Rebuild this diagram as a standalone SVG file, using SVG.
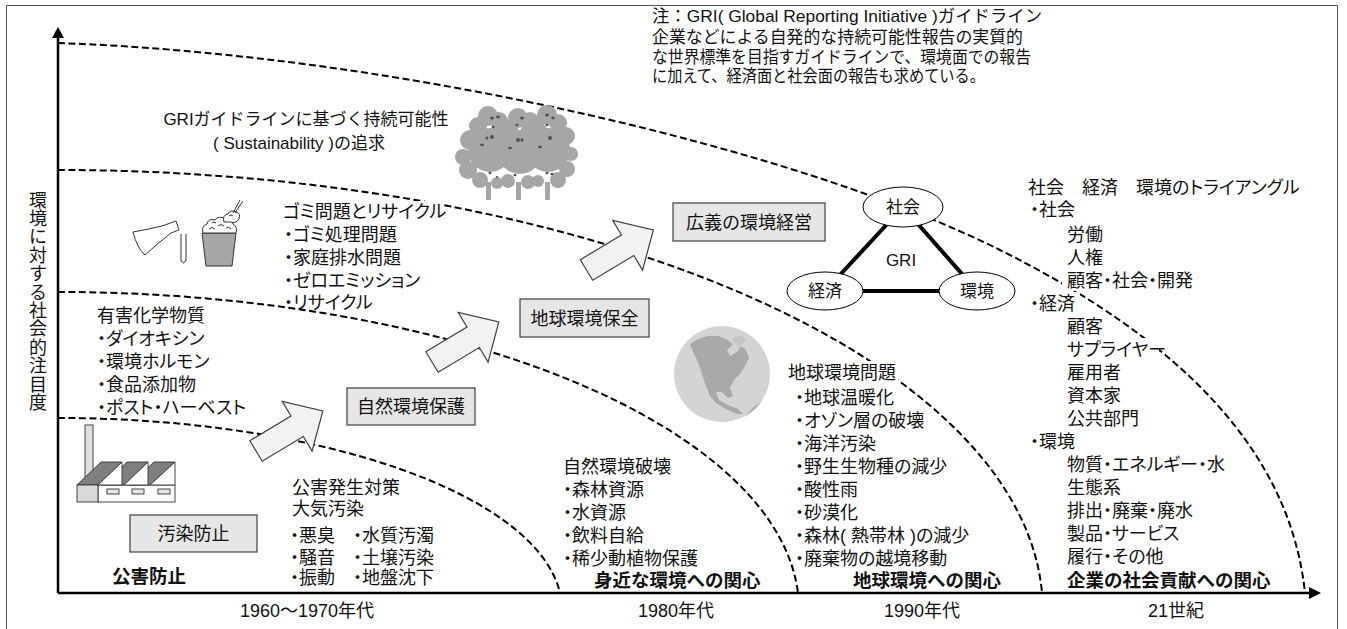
<svg xmlns="http://www.w3.org/2000/svg" width="1347" height="629" viewBox="0 0 1347 629">
<style>
  text{font-family:"Liberation Sans","Noto Sans CJK JP",sans-serif;fill:#111;}
  .l{font-size:18px;font-feature-settings:"palt";}
  .n{font-size:17px;}
  .f{font-size:17px;}
  .b{font-size:18.5px;font-weight:bold;}
  .y{font-size:18px;text-anchor:middle;}
  .box{fill:#e6e6e6;stroke:#404040;stroke-width:1.2;}
  .bt{font-size:18px;text-anchor:middle;}
  .era{fill:none;stroke:#000;stroke-width:2;stroke-dasharray:7 3.5;}
  .blk{fill:#f2f2f2;stroke:#404040;stroke-width:1.2;stroke-linejoin:miter;}
  .ell{fill:#fff;stroke:#000;stroke-width:1;}
  .tri{stroke:#000;stroke-width:4;stroke-linecap:round;}
  .bg{fill:#fff;}
  .ol{stroke:#333;stroke-width:0.9;}
  .spot{fill:#5b4a5e;}
</style>
<defs>
  <polygon id="blockArrow" points="0,-12 48,-12 48,-29 78,0 48,29 48,12 0,12"/>
  <clipPath id="globeClip"><circle cx="722" cy="374" r="48"/></clipPath>
</defs>

<rect x="0" y="0" width="1347" height="629" fill="#fff"/>
<!-- outer frame (bottom edge runs off the page) -->
<path d="M6.5,640 V5.5 H1337.5 V640" fill="none" stroke="#555" stroke-width="1"/>

<!-- era boundary curves -->
<g id="era-curves">
  <path class="era" d="M58,43 C400,55 800,150 1000,250 C1180,340 1290,450 1305,593"/>
  <path class="era" d="M58,170 A984.7,440 0 0 1 1042,593"/>
  <path class="era" d="M58,292 A741,318 0 0 1 798,593"/>
  <path class="era" d="M58,418 A504,192 0 0 1 560,593"/>
</g>

<!-- axes -->
<g id="axes">
  <line x1="58" y1="593" x2="58" y2="35" stroke="#000" stroke-width="2.5"/>
  <polygon points="58,27 52,38 64,38" fill="#000"/>
  <line x1="58" y1="593" x2="1312" y2="593" stroke="#000" stroke-width="2.5"/>
  <polygon points="1321,593 1309,587 1309,599" fill="#000"/>
  <text class="f" style="font-size:18px" text-anchor="middle">
    <tspan x="38" y="206.5">環</tspan><tspan x="38" y="224.9">境</tspan><tspan x="38" y="243.3">に</tspan><tspan x="38" y="261.7">対</tspan><tspan x="38" y="280.1">す</tspan><tspan x="38" y="298.5">る</tspan><tspan x="38" y="316.9">社</tspan><tspan x="38" y="335.3">会</tspan><tspan x="38" y="353.7">的</tspan><tspan x="38" y="372.1">注</tspan><tspan x="38" y="390.5">目</tspan><tspan x="38" y="408.9">度</tspan>
  </text>
  <text class="y" x="307" y="616.5">1960～1970年代</text>
  <text class="y" x="676" y="616.5">1980年代</text>
  <text class="y" x="922" y="616.5">1990年代</text>
  <text class="y" x="1176" y="616.5">21世紀</text>
</g>

<!-- block arrows between stages -->
<g id="connectors">
  <use href="#blockArrow" class="blk" transform="translate(256,451) rotate(-31)"/>
  <use href="#blockArrow" class="blk" transform="translate(432,362) rotate(-31)"/>
  <use href="#blockArrow" class="blk" transform="translate(586.5,270) rotate(-31)"/>
</g>

<!-- stage boxes -->
<g id="box-osen-boshi">
  <rect class="box" x="130" y="515" width="127" height="37"/>
  <text class="bt" x="193.5" y="540">汚染防止</text>
</g>
<g id="box-shizen-hogo">
  <rect class="box" x="347" y="388" width="128" height="37"/>
  <text class="bt" x="411" y="413">自然環境保護</text>
</g>
<g id="box-chikyu-hozen">
  <rect class="box" x="520" y="299" width="129" height="38"/>
  <text class="bt" x="584.5" y="324.5">地球環境保全</text>
</g>
<g id="box-kougi-keiei">
  <rect class="box" x="673" y="203" width="152" height="38"/>
  <text class="bt" x="749" y="228.5">広義の環境経営</text>
</g>

<!-- GRI triangle -->
<g id="gri-triangle">
  <line class="tri" x1="903" y1="207" x2="825" y2="291"/>
  <line class="tri" x1="903" y1="207" x2="977" y2="291"/>
  <line class="tri" x1="825" y1="291" x2="977" y2="291"/>
  <text class="f" x="901" y="266" text-anchor="middle">GRI</text>
</g>
<g id="gri-shakai">
  <ellipse class="ell" cx="903" cy="207" rx="40" ry="20"/>
  <text class="f" x="903" y="213" text-anchor="middle">社会</text>
</g>
<g id="gri-keizai">
  <ellipse class="ell" cx="825" cy="291" rx="38" ry="19"/>
  <text class="f" x="825" y="297" text-anchor="middle">経済</text>
</g>
<g id="gri-kankyo">
  <ellipse class="ell" cx="977" cy="291" rx="38" ry="19"/>
  <text class="f" x="977" y="297" text-anchor="middle">環境</text>
</g>

<!-- note on GRI -->
<g id="note">
  <text class="n" x="652" y="22" textLength="390" lengthAdjust="spacingAndGlyphs">注：GRI( Global Reporting Initiative )ガイドライン</text>
  <text class="n" x="652" y="43" textLength="371" lengthAdjust="spacingAndGlyphs">企業などによる自発的な持続可能性報告の実質的</text>
  <text class="n" x="652" y="63" textLength="379" lengthAdjust="spacingAndGlyphs">な世界標準を目指すガイドラインで、環境面での報告</text>
  <text class="n" x="652" y="82" textLength="333" lengthAdjust="spacingAndGlyphs">に加えて、経済面と社会面の報告も求めている。</text>
</g>

<!-- sustainability heading and tree -->
<g id="sustainability">
  <text class="f" x="306" y="124.5" text-anchor="middle">GRIガイドラインに基づく持続可能性</text>
  <text class="f" x="299" y="148.5" text-anchor="middle">( Sustainability )の追求</text>
</g>
<g id="tree-icon">
  <g fill="#a6a6a6">
    <rect x="486" y="182" width="5" height="18"/>
    <rect x="516" y="182" width="5" height="18"/>
    <rect x="545" y="182" width="5" height="18"/>
    <circle cx="488" cy="116" r="10"/><circle cx="499" cy="121" r="9"/><circle cx="478" cy="126" r="9"/>
    <circle cx="518" cy="118" r="10"/><circle cx="530" cy="121" r="9"/><circle cx="547" cy="115" r="10"/>
    <circle cx="558" cy="123" r="9"/><circle cx="566" cy="136" r="9"/><circle cx="470" cy="140" r="10"/>
    <circle cx="463" cy="157" r="8"/><circle cx="468" cy="170" r="9"/><circle cx="480" cy="180" r="8"/>
    <circle cx="497" cy="183" r="6"/><circle cx="508" cy="181" r="7"/><circle cx="528" cy="182" r="7"/>
    <circle cx="538" cy="181" r="6"/><circle cx="558" cy="180" r="8"/><circle cx="567" cy="169" r="8"/>
    <circle cx="571" cy="154" r="7"/>
    <circle cx="490" cy="150" r="22"/><circle cx="520" cy="152" r="22"/><circle cx="548" cy="150" r="22"/>
    <circle cx="505" cy="134" r="14"/><circle cx="534" cy="134" r="14"/>
  </g>
  <g class="spot">
    <ellipse cx="492" cy="118" rx="2" ry="1.5"/><ellipse cx="498" cy="117" rx="1.8" ry="1.4"/>
    <ellipse cx="522" cy="118" rx="2" ry="1.5"/><ellipse cx="547" cy="115" rx="2" ry="1.5"/>
    <ellipse cx="553" cy="118" rx="1.8" ry="1.4"/><ellipse cx="493" cy="127" rx="1.5" ry="1.2"/>
    <ellipse cx="517" cy="125" rx="1.5" ry="1.2"/><ellipse cx="547" cy="125" rx="1.5" ry="1.2"/>
    <ellipse cx="492" cy="137" rx="2" ry="2"/><ellipse cx="487" cy="138" rx="1.5" ry="1.5"/>
    <ellipse cx="518" cy="140" rx="2" ry="2"/><ellipse cx="522" cy="140" rx="1.5" ry="1.8"/>
    <ellipse cx="550" cy="138" rx="2" ry="2"/><ellipse cx="482" cy="145" rx="2" ry="1.3"/>
    <ellipse cx="510" cy="148" rx="2" ry="1.3"/><ellipse cx="540" cy="147" rx="2" ry="1.3"/>
    <ellipse cx="490" cy="173" rx="1.5" ry="1.2"/><ellipse cx="515" cy="175" rx="1.5" ry="1.2"/>
    <ellipse cx="547" cy="173" rx="1.5" ry="1.2"/><ellipse cx="552" cy="174" rx="1.5" ry="1.2"/>
    <ellipse cx="497" cy="177" rx="1.2" ry="1"/>
  </g>
</g>

<!-- waste / recycling -->
<g id="waste-recycle">
  <rect class="bg" x="281" y="201" width="162" height="21"/>
  <text class="l" x="283" y="217.5">ゴミ問題とリサイクル</text>
  <text class="l" x="284" y="240.5">・ゴミ処理問題</text>
  <text class="l" x="284" y="263.5">・家庭排水問題</text>
  <text class="l" x="284" y="286.5">・ゼロエミッション</text>
  <text class="l" x="284" y="308.5">・リサイクル</text>
</g>
<g id="lab-icon" fill="#fff" stroke="#333" stroke-width="1">
  <path d="M133,232 Q150,229 162,226 L176,221 L179,230 L171,233 Q158,243 145,255 Q137,248 133,232 Z"/>
  <path d="M181,234 L181,260 Q183,266 186,260 L186,234"/>
  <path d="M202,233 L236,233 L232,266 L206,266 Z" fill="#a6a6a6"/>
  <path d="M203,233 Q201,226 207,224 Q208,218 215,220 Q219,215 225,219 Q231,217 233,224 Q238,227 236,233 Z"/>
  <path d="M224,222 Q222,215 228,214 Q230,209 236,212 Q241,213 239,219 Q236,224 230,222 Z"/>
  <path d="M209,229 q3,-3 6,0 M218,226 q3,-3 6,0 M212,223 q2,-2 4,0 M226,228 q3,-2 5,1 M229,216 q2,-2 4,0" fill="none"/>
  <path d="M233,213 L240,200 M235,213 L243,201" fill="none"/>
</g>

<!-- hazardous chemicals -->
<g id="chemicals">
  <text class="l" x="97" y="321.5">有害化学物質</text>
  <text class="l" x="97" y="344.5">・ダイオキシン</text>
  <text class="l" x="97" y="367.5">・環境ホルモン</text>
  <text class="l" x="97" y="390.5">・食品添加物</text>
  <text class="l" x="97" y="413.5">・ポスト・ハーベスト</text>
</g>

<!-- factory icon -->
<g id="factory-icon">
  <rect x="85" y="425" width="8" height="55" fill="#e0e0e0" class="ol"/>
  <rect x="98" y="485" width="77" height="17" fill="#fff" class="ol"/>
  <polygon points="129,485 154,462 175,462 150,485" fill="#7f7f7f" class="ol"/>
  <polygon points="150,485 175,462 175,485" fill="#fff" class="ol"/>
  <polygon points="103,485 127,462 148,462 124,485" fill="#7f7f7f" class="ol"/>
  <polygon points="124,485 148,462 148,485" fill="#fff" class="ol"/>
  <polygon points="77,485 101,462 122,462 98,485" fill="#7f7f7f" class="ol"/>
  <polygon points="98,485 122,462 122,485" fill="#fff" class="ol"/>
  <rect x="77" y="485" width="21" height="17" fill="#d9d9d9" class="ol"/>
  <rect x="107" y="489" width="12" height="5" fill="#e6e6e6" class="ol"/>
  <rect x="132" y="489" width="12" height="5" fill="#e6e6e6" class="ol"/>
  <rect x="158" y="489" width="12" height="5" fill="#e6e6e6" class="ol"/>
</g>

<!-- pollution era -->
<g id="pollution">
  <text class="l" x="292" y="493.5">公害発生対策</text>
  <text class="l" x="292" y="514.5">大気汚染</text>
  <text class="l" x="290" y="541.5">・悪臭</text><text class="l" x="353" y="541.5">・水質汚濁</text>
  <text class="l" x="290" y="563.5">・騒音</text><text class="l" x="353" y="563.5">・土壌汚染</text>
  <text class="l" x="290" y="583.5">・振動</text><text class="l" x="353" y="583.5">・地盤沈下</text>
  <text class="b" x="112" y="582.5">公害防止</text>
</g>

<!-- natural environment era -->
<g id="nature">
  <text class="l" x="563" y="472.5">自然環境破壊</text>
  <text class="l" x="563" y="495.5">・森林資源</text>
  <text class="l" x="563" y="518.5">・水資源</text>
  <text class="l" x="563" y="541.5">・飲料自給</text>
  <text class="l" x="563" y="564.5">・稀少動植物保護</text>
  <text class="b" x="594" y="586.5">身近な環境への関心</text>
</g>

<!-- globe icon -->
<g id="globe-icon">
  <circle cx="722" cy="374" r="48" fill="#d4d4d4"/>
  <g clip-path="url(#globeClip)" fill="#a9a9a9">
    <path d="M690,344 L698,339 L708,336 L718,336 L726,339 L733,344 L727,350 L730,356 L737,352 L741,346 L746,350 L749,358 L745,366 L740,374 L734,380 L730,388 L733,396 L728,398 L722,392 L716,392 L719,400 L728,405 L738,409 L743,414 L737,414 L726,409 L716,403 L710,396 L706,386 L702,374 L698,362 L693,352 Z"/>
    <path d="M744,417 L755,406 L764,400 L772,403 L766,414 L752,424 Z"/>
  </g>
  <path d="M733,338 L742,335 L746,341 L739,346 L734,343 Z" fill="#c4c4c4"/>
</g>

<!-- global environment era -->
<g id="global">
  <rect class="bg" x="786" y="361" width="112" height="22"/>
  <rect class="bg" x="793" y="386" width="98" height="22"/>
  <rect class="bg" x="793" y="409" width="139" height="22"/>
  <text class="l" x="788" y="378.5">地球環境問題</text>
  <text class="l" x="795" y="403.5">・地球温暖化</text>
  <text class="l" x="795" y="426.5">・オゾン層の破壊</text>
  <text class="l" x="795" y="449.5">・海洋汚染</text>
  <text class="l" x="795" y="472.5">・野生生物種の減少</text>
  <text class="l" x="795" y="495.5">・酸性雨</text>
  <text class="l" x="795" y="518.5">・砂漠化</text>
  <text class="l" x="795" y="541.5">・森林( 熱帯林 )の減少</text>
  <text class="l" x="795" y="564.5">・廃棄物の越境移動</text>
  <text class="b" x="853" y="586.5">地球環境への関心</text>
</g>

<!-- triangle of society, economy, environment -->
<g id="triangle-list">
  <rect class="bg" x="1062" y="269" width="135" height="22"/>
  <rect class="bg" x="1028" y="292" width="52" height="22"/>
  <rect class="bg" x="1065" y="338" width="94" height="22"/>
  <text class="l" x="1028" y="193.5">社会　経済　環境のトライアングル</text>
  <text class="l" x="1030" y="215.5">・社会</text>
  <text class="l" x="1067" y="240.5">労働</text>
  <text class="l" x="1067" y="263.5">人権</text>
  <text class="l" x="1067" y="286.5">顧客・社会・開発</text>
  <text class="l" x="1030" y="309.5">・経済</text>
  <text class="l" x="1067" y="332.5">顧客</text>
  <text class="l" x="1067" y="355.5">サプライヤー</text>
  <text class="l" x="1067" y="378.5">雇用者</text>
  <text class="l" x="1067" y="401.5">資本家</text>
  <text class="l" x="1067" y="424.5">公共部門</text>
  <text class="l" x="1030" y="447.5">・環境</text>
  <text class="l" x="1067" y="470.5">物質・エネルギー・水</text>
  <text class="l" x="1067" y="493.5">生態系</text>
  <text class="l" x="1067" y="516.5">排出・廃棄・廃水</text>
  <text class="l" x="1067" y="539.5">製品・サービス</text>
  <text class="l" x="1067" y="562.5">履行・その他</text>
  <text class="b" x="1067" y="586.5">企業の社会貢献への関心</text>
</g>
</svg>
